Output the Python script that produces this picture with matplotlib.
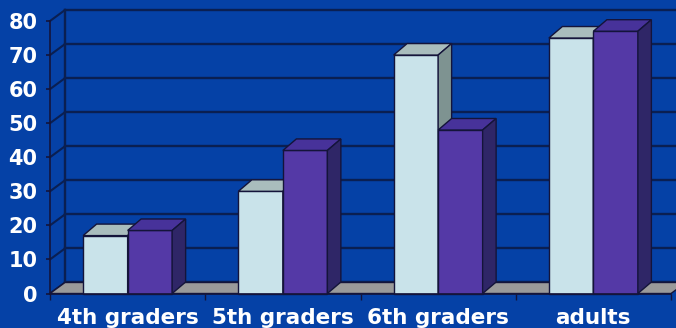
import matplotlib
matplotlib.use("Agg")
import matplotlib.pyplot as plt
from matplotlib.patches import Polygon, Rectangle

groups = ["4th graders", "5th graders", "6th graders", "adults"]
series_a = [17, 30, 70, 75]
series_b = [18.5, 42, 48, 77]
y_ticks = [0, 10, 20, 30, 40, 50, 60, 70, 80]

bg = "#0541a6"
grid_col = "#0a1f52"
edge = "#14143a"
light = ("#c9e3ea", "#a9bdbd", "#7e9391")   # front, top, side
dark = ("#5439a6", "#47329a", "#2f2667")

# pseudo-3d depth, in data units (categories, value)
wall_dx, wall_dy = 15 / 155.25, 11 / 3.406
bar_dx, bar_dy = 13.5 / 155.25, 11.5 / 3.406
bar_w = 44.5 / 155.25
gap = (1 - 2 * bar_w) / 2

fig = plt.figure(figsize=(6.76, 3.28), dpi=100, facecolor=bg)
ax = fig.add_axes([50 / 676, 34.5 / 328, 621 / 676, 272.5 / 328])
ax.set_xlim(0, 4)
ax.set_ylim(0, 80)
ax.set_facecolor("none")

# floor
floor = Polygon([(0, 0), (4, 0), (4 + wall_dx, wall_dy), (wall_dx, wall_dy)],
                closed=True, facecolor="#9a9a9a", edgecolor=edge, lw=1, clip_on=False, zorder=1)
ax.add_patch(floor)

# back wall grid and side wall diagonals
for v in y_ticks:
    ax.plot([wall_dx, 4.2], [v + wall_dy, v + wall_dy], color=grid_col, lw=1.7,
            clip_on=False, zorder=0.5)
    ax.plot([0, wall_dx], [v, v + wall_dy], color=grid_col, lw=1.5, clip_on=False, zorder=0.5)
ax.plot([wall_dx, wall_dx], [wall_dy, 80 + wall_dy], color=grid_col, lw=1.7, clip_on=False, zorder=0.5)


def draw_bar(x0, v, cols):
    front, top, side = cols
    ax.add_patch(Rectangle((x0, 0), bar_w, v, facecolor=front, edgecolor=edge, lw=1,
                           clip_on=False, zorder=2))
    ax.add_patch(Polygon([(x0, v), (x0 + bar_w, v), (x0 + bar_w + bar_dx, v + bar_dy),
                          (x0 + bar_dx, v + bar_dy)], closed=True, facecolor=top,
                         edgecolor=edge, lw=1, clip_on=False, zorder=2))
    ax.add_patch(Polygon([(x0 + bar_w, 0), (x0 + bar_w + bar_dx, bar_dy),
                          (x0 + bar_w + bar_dx, v + bar_dy), (x0 + bar_w, v)], closed=True,
                         facecolor=side, edgecolor=edge, lw=1, clip_on=False, zorder=2))


for i in range(len(groups)):
    draw_bar(i + gap, series_a[i], light)
    draw_bar(i + gap + bar_w, series_b[i], dark)

for s in ["top", "right"]:
    ax.spines[s].set_visible(False)
for s in ["left", "bottom"]:
    ax.spines[s].set_color(edge)
    ax.spines[s].set_linewidth(1.2)
    ax.spines[s].set_zorder(3)

ax.set_yticks(y_ticks)
ax.set_yticklabels([str(v) for v in y_ticks])
ax.tick_params(axis="y", colors=edge, length=3, width=1.2, pad=6,
               labelcolor="white", labelsize=15)
ax.set_xticks([i + 0.5 for i in range(len(groups))])
ax.set_xticklabels(groups)
ax.set_xticks(range(len(groups) + 1), minor=True)
ax.tick_params(axis="x", which="major", length=0, pad=10.5, labelcolor="white", labelsize=15.5)
ax.tick_params(axis="x", which="minor", length=4, width=1, colors=edge)
for lab in ax.get_xticklabels() + ax.get_yticklabels():
    lab.set_fontweight("bold")

fig.savefig("out.png", dpi=100, facecolor=bg)
